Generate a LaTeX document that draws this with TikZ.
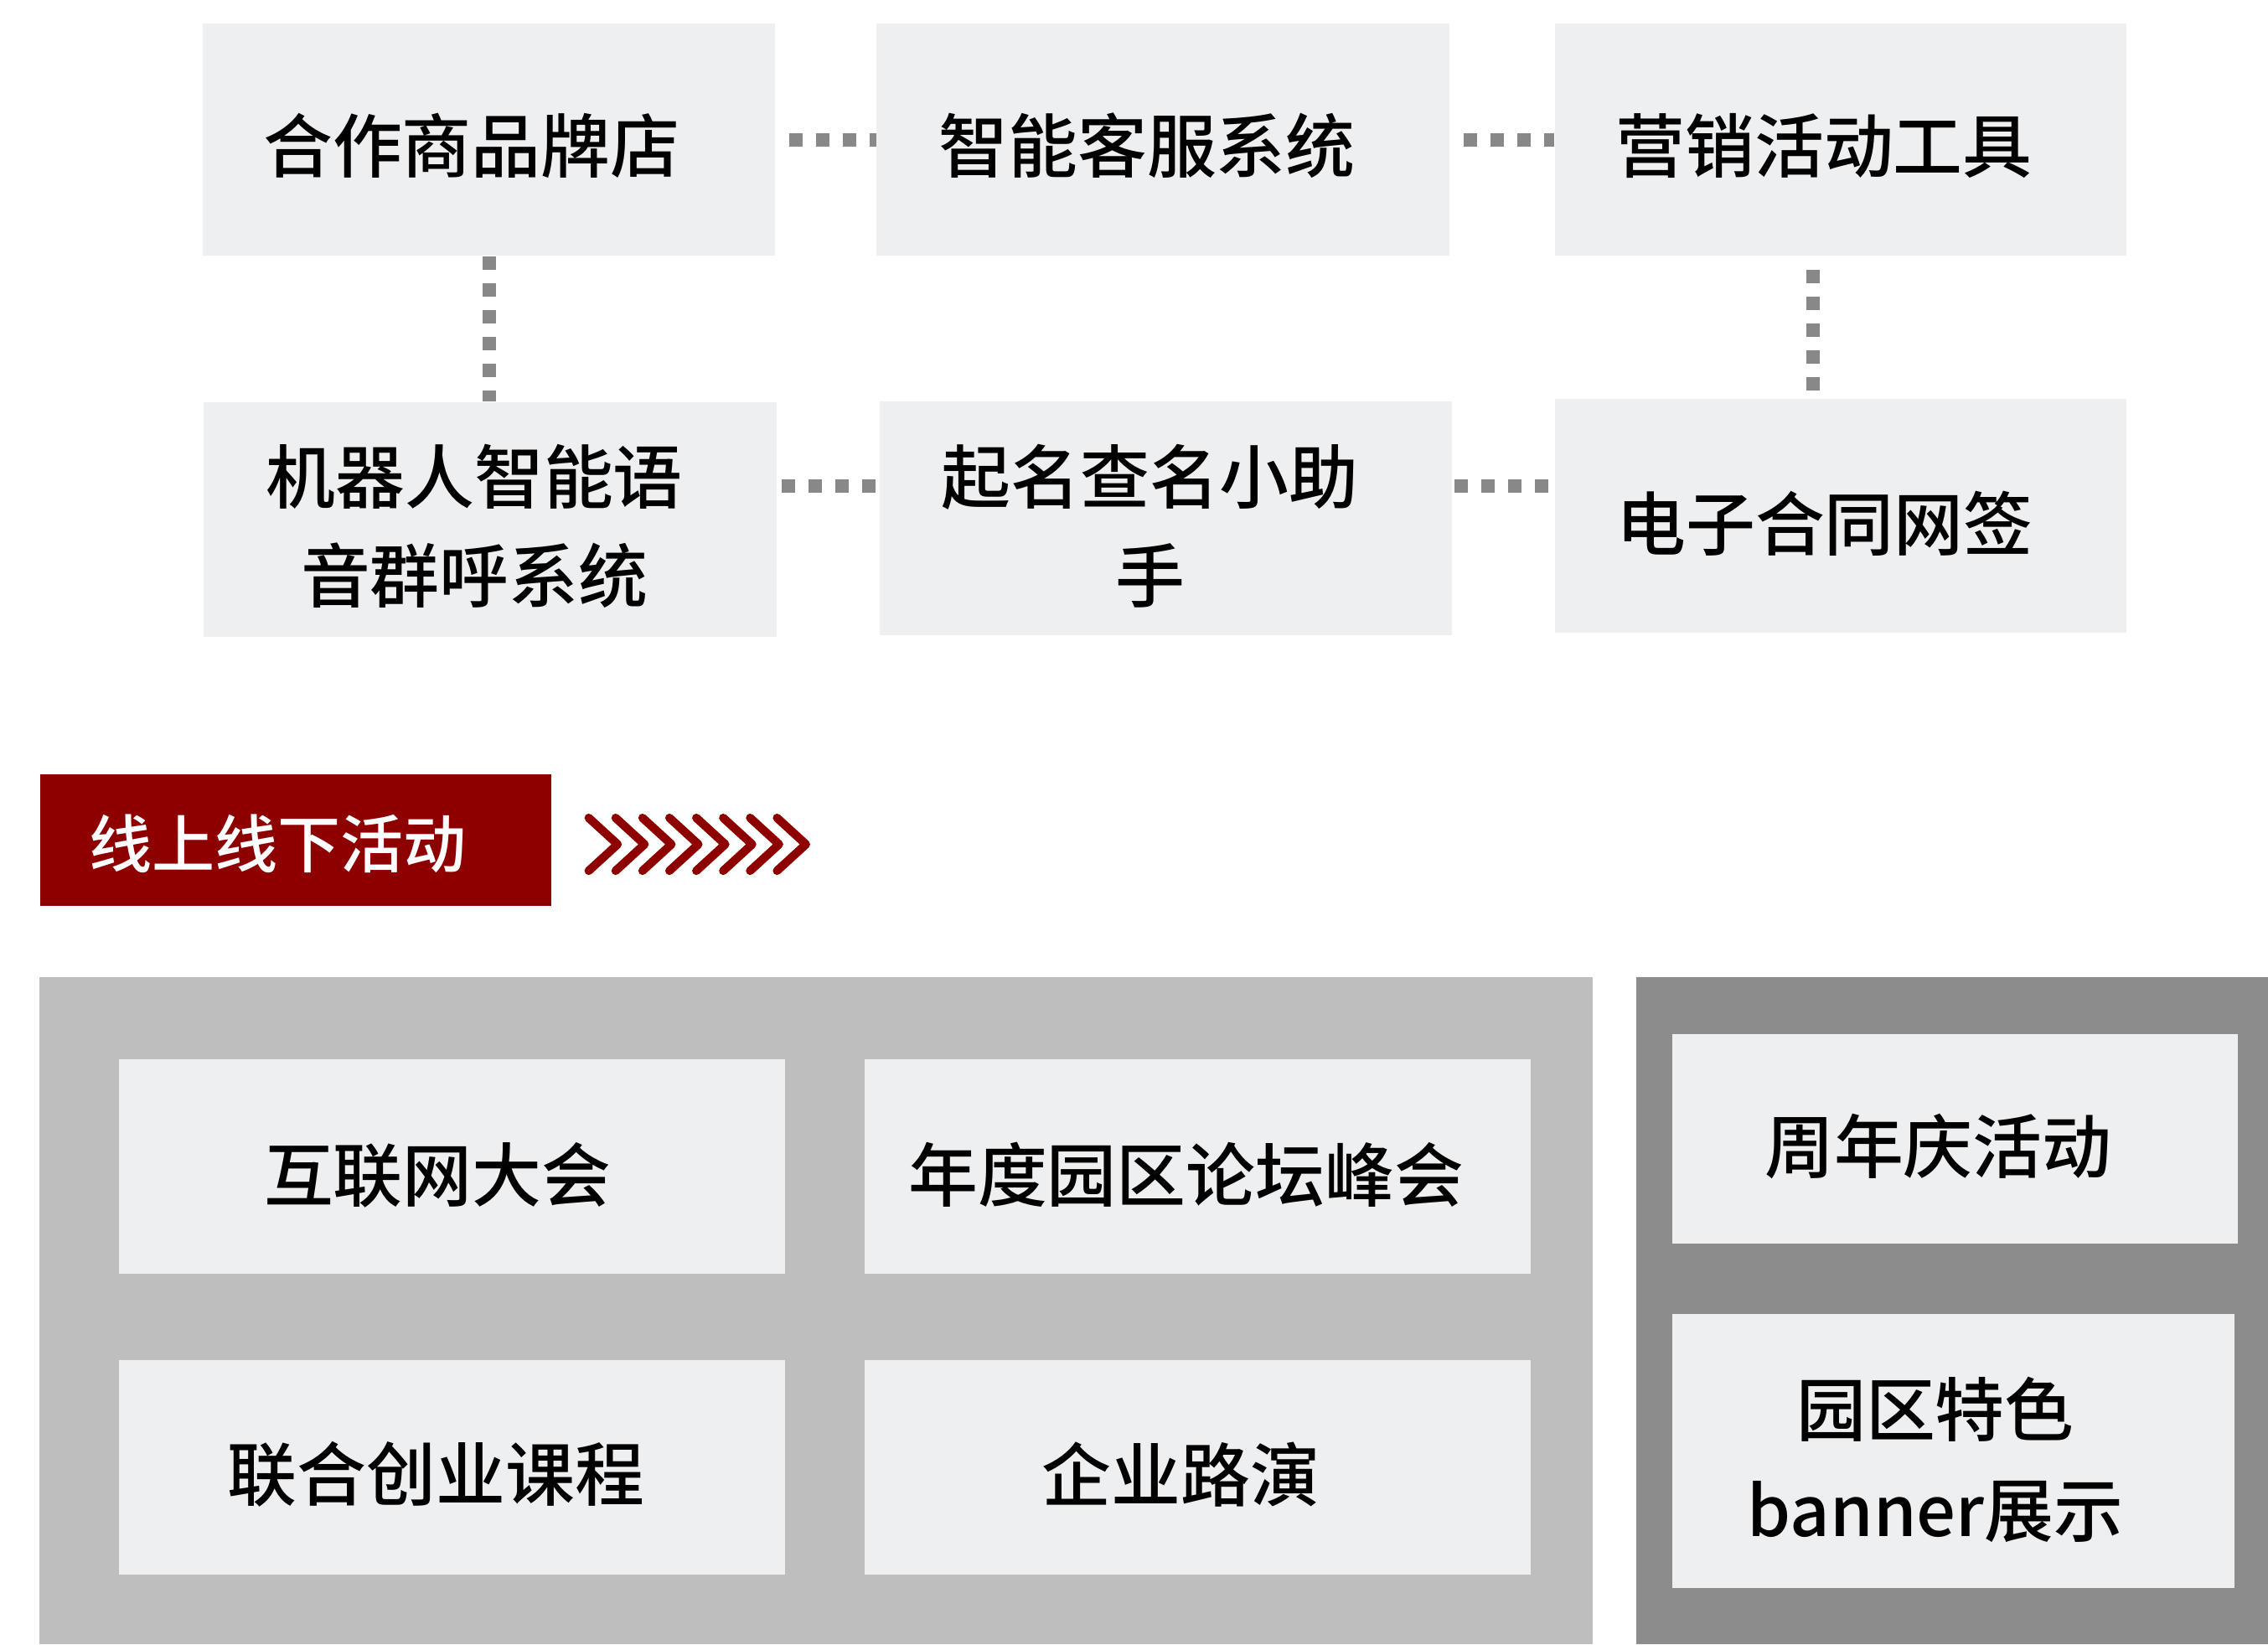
\documentclass[tikz,border=0pt]{standalone}
\usepackage{fontspec}
\setmainfont{Noto Sans CJK SC}[BoldFont={* Medium}]
\definecolor{boxgray}{HTML}{EEEFF1}
\definecolor{panellight}{HTML}{BEBEBE}
\definecolor{paneldark}{HTML}{8C8C8C}
\definecolor{tagred}{HTML}{8E0000}
\definecolor{dotgray}{HTML}{888888}
\tikzset{
  box/.style={fill=boxgray, draw=none, inner sep=0pt},
  lbl/.style={font=\fontsize{24pt}{34pt}\selectfont\bfseries, align=center, inner sep=0pt, text=black},
  lblb/.style={font=\fontsize{24pt}{35pt}\selectfont\bfseries, align=center, inner sep=0pt, text=black},
  taglbl/.style={font=\fontsize{21.75pt}{26pt}\selectfont\bfseries, inner sep=0pt, text=white},
  dotline/.style={draw=dotgray, line width=4.65pt, dash pattern=on 4.65pt off 4.65pt},
  chev/.style={draw=tagred, line width=2.9pt, line cap=round, line join=round},
}
\begin{document}
\begin{tikzpicture}[x=0.5pt, y=-0.5pt]
\useasboundingbox (0,0) rectangle (1568,1136.5);
% top boxes
\node[box, minimum width=198pt, minimum height=80.25pt] (A) at (338,96.5) {};
\node[box, minimum width=198pt, minimum height=80.25pt] (B) at (804,96.5) {};
\node[box, minimum width=197.5pt, minimum height=80.25pt] (C) at (1272.5,96.5) {};
\node[box, minimum width=198pt, minimum height=81pt] (D) at (339,359) {};
\node[box, minimum width=198pt, minimum height=81pt] (E) at (806,358.2) {};
\node[box, minimum width=197.5pt, minimum height=81pt] (F) at (1272.5,356.6) {};
\node[lbl] (tA) at (326,100.5) {合作商品牌店};
\node[lbl] (tB) at (793,100.5) {智能客服系统};
\node[lbl] (tC) at (1261,100.5) {营销活动工具};
\node[lbl] (tD) at (328,363.6) {机器人智能语\\音群呼系统};
\node[lbl] (tE) at (795,363.6) {起名查名小助\\手};
\node[lbl] (tF) at (1261.5,362) {电子合同网签};
% connectors
\draw[dotline, dash phase=4.65pt] (A.east) -- (B.west);
\draw[dotline, dash phase=4.65pt] (B.east) -- (C.west);
\draw[dotline] (A.south) -- (A.south |- D.north);
\coordinate (cf1) at ([xshift=-9.5pt]C.south);
\draw[dotline, dash phase=4.65pt] (cf1) -- (cf1 |- F.north);
\coordinate (de1) at ([yshift=11.6pt]D.east);
\draw[dotline, dash phase=7.85pt] (de1) -- (de1 -| E.west);
\coordinate (ef1) at ([yshift=11.2pt]E.east);
\draw[dotline, dash phase=8.8pt] (ef1) -- (ef1 -| F.west);
% red tag
\node[fill=tagred, draw=none, inner sep=0pt, minimum width=176.5pt, minimum height=45.5pt] (tag) at (204.5,580.5) {};
\node[taglbl] (tagt) at (192,583) {线上线下活动};
\foreach \k in {0,...,7} {
  \draw[chev] ({407+18.6*\k},565.3) -- ({427+18.6*\k},583.6) -- ({407+18.6*\k},601.9);
}
% bottom panels
\fill[panellight] (27,675.3) rectangle (1101,1136.5);
\fill[paneldark] (1131,675.3) rectangle (1568,1136.5);
\node[box, minimum width=230.5pt, minimum height=74.35pt] (G) at (312.5,806.25) {};
\node[box, minimum width=230pt, minimum height=74.35pt] (H) at (828,806.25) {};
\node[box, minimum width=230.5pt, minimum height=74.1pt] (I) at (312.5,1014.4) {};
\node[box, minimum width=230pt, minimum height=74.1pt] (J) at (828,1014.4) {};
\node[box, minimum width=195.5pt, minimum height=72.45pt] (K) at (1351.5,787) {};
\node[box, minimum width=194.5pt, minimum height=94.9pt] (L) at (1350.5,1002.9) {};
\node[lbl] (tG) at (302.5,812) {互联网大会};
\node[lbl] (tH) at (820,812) {年度园区论坛峰会};
\node[lbl] (tI) at (301.5,1019) {联合创业课程};
\node[lbl] (tJ) at (816.5,1019) {企业路演};
\node[lbl] (tK) at (1340,792.5) {周年庆活动};
\node[lblb] (tL) at (1338,1009) {园区特色\\banner展示};
\end{tikzpicture}
\end{document}
